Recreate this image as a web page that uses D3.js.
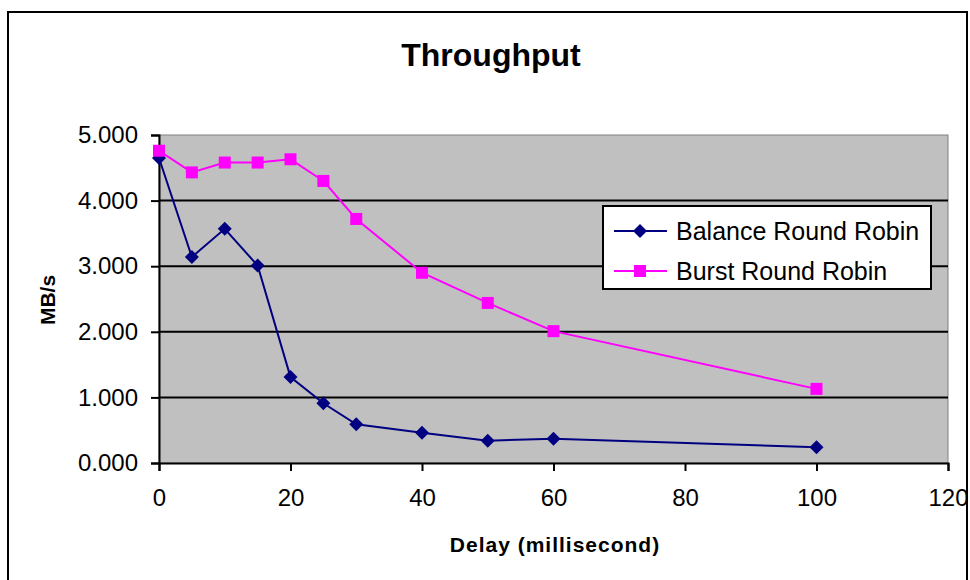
<!DOCTYPE html>
<html>
<head>
<meta charset="utf-8">
<script src="https://cdn.jsdelivr.net/npm/d3@7/dist/d3.min.js"></script>
<style>
    body { margin: 0; background: #fff; }
    svg text { font-family: "Liberation Sans", Arial, sans-serif; fill: #000; }
    .axis text { font-size: 24px; }
</style>
</head>
<body>
<script>
// data
var delays = [0, 5, 10, 15, 20, 25, 30, 40, 50, 60, 100];
var balanceRR = [4.65, 3.14, 3.57, 3.01, 1.31, 0.91, 0.59, 0.46, 0.34, 0.37, 0.24];
var burstRR = [4.76, 4.43, 4.58, 4.58, 4.63, 4.30, 3.72, 2.90, 2.44, 2.01, 1.13];
var seriesNames = ["Balance Round Robin", "Burst Round Robin"];
var xTicks = [0, 20, 40, 60, 80, 100, 120];
var yTicks = [0, 1, 2, 3, 4, 5];

var width = 970, height = 580;
var plot = {left: 159, top: 135, right: 948, bottom: 463};

var svg = d3.select("body").append("svg")
    .attr("width", width)
    .attr("height", height);

// outer chart border
svg.append("rect")
    .attr("x", 8).attr("y", 12)
    .attr("width", 959).attr("height", 600)
    .attr("fill", "#fff")
    .attr("stroke", "#000")
    .attr("stroke-width", 2);

var x = d3.scaleLinear().domain([0, 120]).range([plot.left, plot.right]);
var y = d3.scaleLinear().domain([0, 5]).range([plot.bottom, plot.top]);

// plot area
svg.append("rect")
    .attr("x", plot.left).attr("y", plot.top)
    .attr("width", plot.right - plot.left)
    .attr("height", plot.bottom - plot.top)
    .attr("fill", "#c0c0c0")
    .attr("stroke", "#808080")
    .attr("stroke-width", 1);

// gridlines
svg.selectAll("line.grid")
    .data(yTicks.slice(1, -1))
    .enter().append("line")
    .attr("class", "grid")
    .attr("x1", plot.left).attr("x2", plot.right)
    .attr("y1", function(d) { return y(d); })
    .attr("y2", function(d) { return y(d); })
    .attr("stroke", "#000")
    .attr("stroke-width", 2);

// x axis
var xAxis = d3.axisBottom(x).tickValues(xTicks).tickSize(8).tickPadding(18)
    .tickFormat(d3.format("d"));
var gx = svg.append("g")
    .attr("class", "axis")
    .attr("transform", "translate(0," + plot.bottom + ")")
    .call(xAxis);

// y axis
var yAxis = d3.axisLeft(y).tickValues(yTicks).tickSize(8).tickPadding(13)
    .tickFormat(d3.format(".3f"));
var gy = svg.append("g")
    .attr("class", "axis")
    .attr("transform", "translate(" + plot.left + ",0)")
    .call(yAxis);

[gx, gy].forEach(function(g) {
    g.select(".domain").attr("stroke", "#000").attr("stroke-width", 2);
    g.selectAll(".tick line").attr("stroke", "#000").attr("stroke-width", 2);
    g.selectAll("text").attr("font-family", null).attr("font-size", null);
});
gx.selectAll(".tick text").attr("dy", "0.71em");

// lines
var line = d3.line()
    .x(function(d, i) { return x(delays[i]); })
    .y(function(d) { return y(d); });

var colors = ["#000080", "#ff00ff"];

svg.append("path")
    .datum(balanceRR)
    .attr("d", line)
    .attr("fill", "none")
    .attr("stroke", colors[0])
    .attr("stroke-width", 2);

svg.selectAll("path.diamond")
    .data(balanceRR)
    .enter().append("path")
    .attr("class", "diamond")
    .attr("d", "M0,-7L7,0L0,7L-7,0Z")
    .attr("transform", function(d, i) { return "translate(" + x(delays[i]) + "," + y(d) + ")"; })
    .attr("fill", colors[0]);

svg.append("path")
    .datum(burstRR)
    .attr("d", line)
    .attr("fill", "none")
    .attr("stroke", colors[1])
    .attr("stroke-width", 2);

svg.selectAll("rect.square")
    .data(burstRR)
    .enter().append("rect")
    .attr("class", "square")
    .attr("x", function(d, i) { return x(delays[i]) - 6; })
    .attr("y", function(d) { return y(d) - 6; })
    .attr("width", 12).attr("height", 12)
    .attr("fill", colors[1]);

// title and axis titles
svg.append("text")
    .attr("x", 491).attr("y", 66)
    .attr("text-anchor", "middle")
    .style("font-size", "32px")
    .style("font-weight", "bold")
    .text("Throughput");

svg.append("text")
    .attr("x", 555).attr("y", 552)
    .attr("text-anchor", "middle")
    .style("font-size", "21px")
    .style("font-weight", "bold")
    .style("letter-spacing", "1px")
    .text("Delay (millisecond)");

svg.append("text")
    .attr("transform", "translate(55,300) rotate(-90)")
    .attr("text-anchor", "middle")
    .style("font-size", "21px")
    .style("font-weight", "bold")
    .text("MB/s");

// legend
var legend = svg.append("g").attr("transform", "translate(603,206)");
legend.append("rect")
    .attr("width", 328).attr("height", 83)
    .attr("fill", "#fff")
    .attr("stroke", "#000")
    .attr("stroke-width", 2);

var rows = legend.selectAll("g.row")
    .data(seriesNames)
    .enter().append("g")
    .attr("class", "row")
    .attr("transform", function(d, i) { return "translate(0," + (25 + i * 40) + ")"; });

rows.append("line")
    .attr("x1", 11).attr("x2", 64)
    .attr("stroke", function(d, i) { return colors[i]; })
    .attr("stroke-width", 2);

rows.append("path")
    .attr("d", function(d, i) {
        return i == 0 ? "M37,-7L44,0L37,7L30,0Z" : "M31,-6H43V6H31Z";
    })
    .attr("fill", function(d, i) { return colors[i]; });

rows.append("text")
    .attr("x", 73).attr("dy", "0.35em")
    .style("font-size", "25px")
    .text(function(d) { return d; });
</script>
</body>
</html>
